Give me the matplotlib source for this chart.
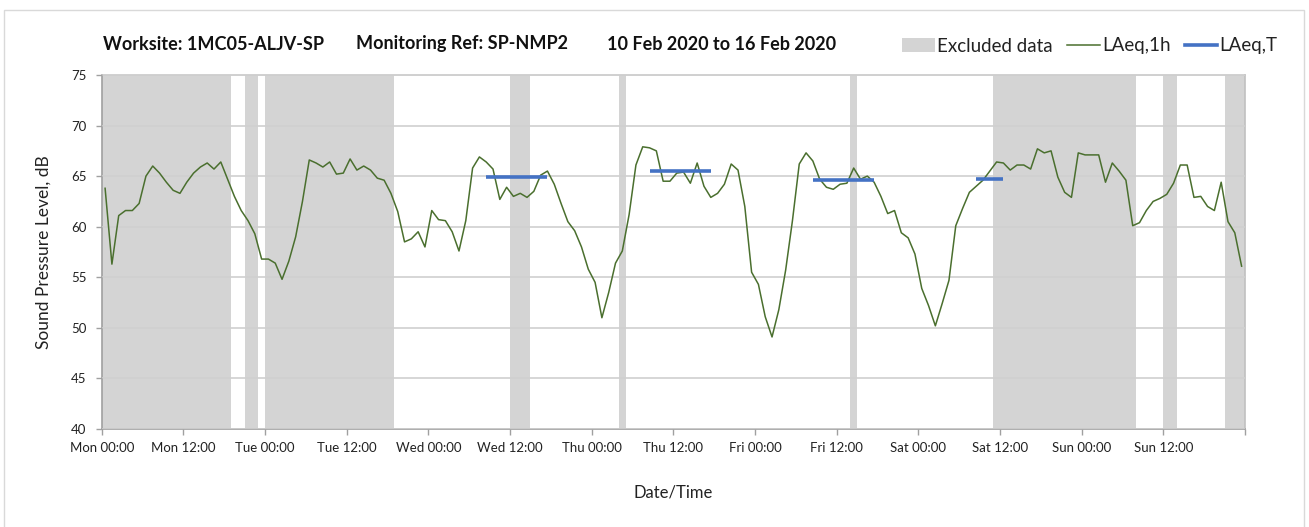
import numpy as np
import matplotlib
matplotlib.use("Agg")
import matplotlib.pyplot as plt
from matplotlib.patches import Patch, Rectangle
from matplotlib.lines import Line2D

plt.rcParams['font.family'] = ['Lato', 'DejaVu Sans']

# ---- data ----
laeq_1h = [
    63.8, 56.3, 61.1, 61.6, 61.6, 62.3, 65.0, 66.0, 65.3, 64.4, 63.6, 63.3,
    64.4, 65.3, 65.9, 66.3, 65.7, 66.4, 64.7, 63.0, 61.6, 60.6, 59.3, 56.8,
    56.8, 56.4, 54.8, 56.6, 59.0, 62.5, 66.6, 66.3, 65.9, 66.4, 65.2, 65.3,
    66.7, 65.6, 66.0, 65.6, 64.8, 64.6, 63.3, 61.5, 58.5, 58.8, 59.5, 58.0,
    61.6, 60.7, 60.6, 59.5, 57.6, 60.6, 65.8, 66.9, 66.4, 65.7, 62.7, 63.9,
    63.0, 63.3, 62.9, 63.5, 65.1, 65.5, 64.2, 62.3, 60.5, 59.6, 58.0, 55.8,
    54.5, 51.0, 53.5, 56.4, 57.6, 61.2, 66.1, 67.9, 67.8, 67.5, 64.5, 64.5,
    65.3, 65.4, 64.3, 66.3, 64.0, 62.9, 63.3, 64.2, 66.2, 65.6, 62.0, 55.5,
    54.3, 51.1, 49.1, 51.8, 55.7, 60.6, 66.2, 67.3, 66.5, 64.7, 63.9, 63.7,
    64.2, 64.3, 65.8, 64.7, 65.0, 64.4, 63.0, 61.3, 61.6, 59.4, 58.9, 57.3,
    53.9, 52.2, 50.2, 52.4, 54.7, 60.1, 61.8, 63.4, 64.0, 64.6, 65.5, 66.4,
    66.3, 65.6, 66.1, 66.1, 65.7, 67.7, 67.3, 67.5, 64.9, 63.4, 62.9, 67.3,
    67.1, 67.1, 67.1, 64.4, 66.3, 65.5, 64.6, 60.1, 60.4, 61.6, 62.5, 62.8,
    63.2, 64.3, 66.1, 66.1, 62.9, 63.0, 62.0, 61.6, 64.4, 60.5, 59.4, 56.1,
]

# excluded periods (hours from Mon 00:00)
excl_start = [0, 21, 24, 60, 76, 110, 131, 156, 165]
excl_end = [19, 23, 43, 63, 77, 111, 152, 158, 168]

# LAeq,T periods (first and last hour) and values
laeqT_start = [56, 80, 104, 128]
laeqT_end = [65, 89, 113, 132]
laeqT_val = [64.9, 65.5, 64.6, 64.7]

tick_labels = ["Mon 00:00", "Mon 12:00", "Tue 00:00", "Tue 12:00",
               "Wed 00:00", "Wed 12:00", "Thu 00:00", "Thu 12:00",
               "Fri 00:00", "Fri 12:00", "Sat 00:00", "Sat 12:00",
               "Sun 00:00", "Sun 12:00", ""]

title_parts = ["Worksite: 1MC05-ALJV-SP", "Monitoring Ref: SP-NMP2",
               "10 Feb 2020 to 16 Feb 2020"]

# ---- figure ----
W, H = 1309, 527
fig = plt.figure(figsize=(W / 100, H / 100), dpi=100)
fig.patch.set_facecolor('white')
fig.add_artist(Rectangle((4 / W, -0.01), 1300 / W, 1 - 10 / H + 0.01,
                         transform=fig.transFigure, fill=False,
                         edgecolor='#d9d9d9', linewidth=1.0))

ax = fig.add_axes([101.7 / W, 1 - 429 / H, (1245 - 101.7) / W, (429 - 75) / H])

shade = '#d4d4d4'
for s, e in zip(excl_start, excl_end):
    ax.axvspan(s, e, color=shade, lw=0, zorder=1)

hours = np.arange(len(laeq_1h)) + 0.5
ax.plot(hours, laeq_1h, color='#4a6f2e', lw=1.1, zorder=4)

for s, e, v in zip(laeqT_start, laeqT_end, laeqT_val):
    ax.plot([s + 0.5, e + 0.5], [v, v], color='#4472c4', lw=2.6,
            solid_capstyle='butt', zorder=5)

ax.set_xlim(0, 168)
ax.set_ylim(40, 75)
ax.set_yticks(np.arange(40, 76, 5))
ax.set_xticks(np.arange(0, 169, 12))
ax.set_xticklabels(tick_labels)
ax.set_xticks(np.arange(0, 169, 24), minor=True)

ax.set_axisbelow(False)
ax.grid(axis='y', which='major', color='#d0d0d0', lw=1.2)
ax.grid(axis='x', which='minor', color='#d9d9d9', lw=1.0)

for side in ['left', 'bottom']:
    ax.spines[side].set_color('#a0a0a0')
    ax.spines[side].set_linewidth(1.2)
ax.spines['top'].set_color('#c8c8c8')
ax.spines['top'].set_linewidth(1.2)
ax.spines['right'].set_color('#c0c0c0')
ax.spines['right'].set_linewidth(1.2)

ax.tick_params(axis='both', which='major', direction='out', length=4,
               color='#a0a0a0', width=1.0, labelsize=9.5, labelcolor='#222222')
ax.tick_params(axis='y', pad=7)
ax.tick_params(axis='x', pad=5)
ax.tick_params(axis='x', which='minor', length=0)

ax.set_ylabel("Sound Pressure Level, dB", fontsize=12.5, color='#222222', labelpad=14)
ax.set_xlabel("Date/Time", fontsize=12, color='#222222', labelpad=22)

# title
tx = [103, 356, 607]
for x, t in zip(tx, title_parts):
    fig.text(x / W, 1 - 44 / H, t, fontsize=13, fontweight='bold',
             va='center', ha='left', color='#111111')

# legend
handles = [Patch(facecolor=shade, edgecolor='none'),
           Line2D([], [], color='#4a6f2e', lw=1.1),
           Line2D([], [], color='#4472c4', lw=2.6)]
labels = ["Excluded data", "LAeq,1h", "LAeq,T"]
fig.legend(handles, labels, ncol=3, frameon=False, loc='center left',
           bbox_to_anchor=(902 / W, 1 - 46 / H), fontsize=13.5,
           handlelength=1.75, handletextpad=0.12, columnspacing=0.75,
           borderpad=0, borderaxespad=0, labelcolor='#222222')

fig.savefig("out.png", dpi=100)
